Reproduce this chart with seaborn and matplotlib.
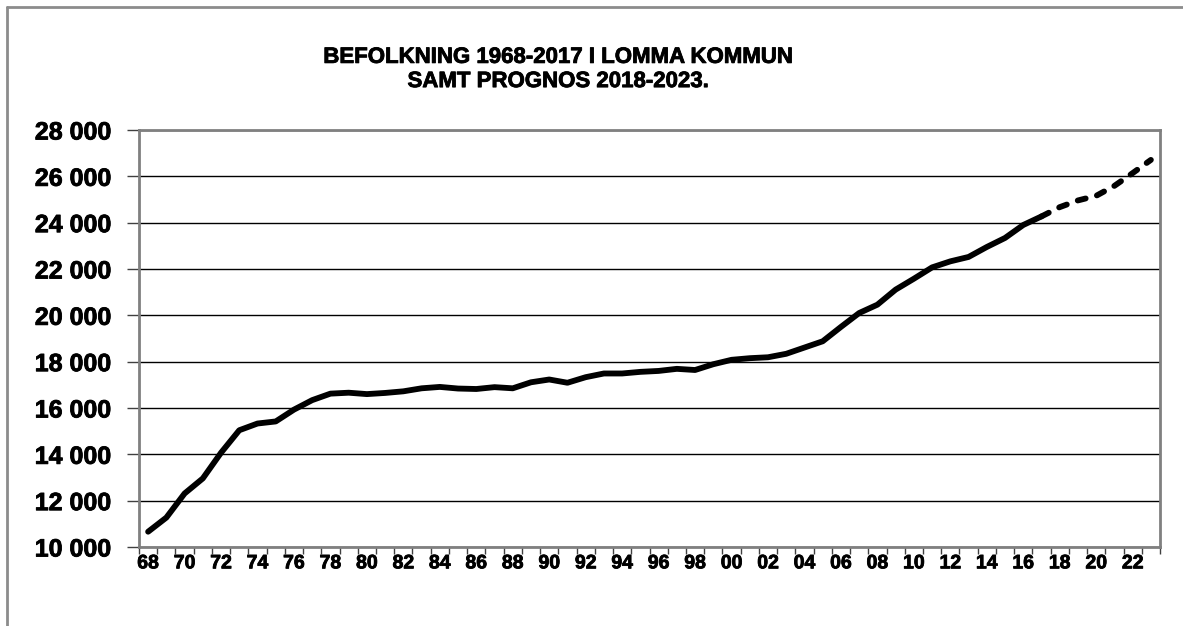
import numpy as np
import pandas as pd
import seaborn as sns
import matplotlib.pyplot as plt
import matplotlib.patheffects as pe
from matplotlib.lines import Line2D
from matplotlib.ticker import FuncFormatter, FixedLocator

# observed population 1968-2017
years_obs = list(range(1968, 2018))
pop_obs = [10660, 11270, 12310, 12960, 14070, 15040, 15330, 15420, 15930, 16340,
           16620, 16660, 16600, 16650, 16720, 16850, 16910, 16840, 16820, 16900,
           16850, 17110, 17230, 17090, 17330, 17490, 17490, 17560, 17600, 17690,
           17640, 17890, 18080, 18150, 18190, 18340, 18610, 18880, 19500, 20100,
           20460, 21110, 21580, 22070, 22330, 22520, 22950, 23340, 23900, 24270]

# forecast 2018-2023 (joined to last observed year)
years_fc = list(range(2017, 2024))
pop_fc = [24270, 24670, 24960, 25160, 25590, 26140, 26710]

title = "BEFOLKNING 1968-2017 I LOMMA KOMMUN\nSAMT PROGNOS 2018-2023."

sns.set_style("white")
plt.rcParams['font.family'] = ['Liberation Sans', 'DejaVu Sans']
plt.rcParams['font.weight'] = 'bold'
plt.rcParams['text.color'] = 'black'
plt.rcParams['xtick.color'] = 'black'
plt.rcParams['ytick.color'] = 'black'

fig = plt.figure(figsize=(11.83, 6.26), dpi=100)
ax = fig.add_axes([139 / 1183, 1 - 547 / 626, (1160 - 139) / 1183, (547 - 130) / 626])

df_obs = pd.DataFrame({"year": years_obs, "pop": pop_obs})
df_fc = pd.DataFrame({"year": years_fc, "pop": pop_fc})

sns.lineplot(data=df_obs, x="year", y="pop", ax=ax, color="black", linewidth=4.2,
             solid_capstyle="round", solid_joinstyle="round")
sns.lineplot(data=df_fc, x="year", y="pop", ax=ax, color="black", linewidth=4.2,
             linestyle=(0, (1.4, 2.0)), dash_capstyle="round")

ax.set_xlim(1967.5, 2023.5)
ax.set_ylim(10000, 28000)
ax.set_yticks(np.arange(10000, 28001, 2000))
ax.yaxis.set_major_formatter(FuncFormatter(lambda v, p: f"{int(v):,}".replace(",", " ")))
ax.grid(axis="y", color="black", linewidth=1.0)
ax.set_axisbelow(True)

# ticks between categories, labels on every second year
ax.xaxis.set_major_locator(FixedLocator(np.arange(1967.5, 2024, 1)))
ax.xaxis.set_major_formatter(FuncFormatter(lambda v, p: ""))
ax.xaxis.set_minor_locator(FixedLocator(np.arange(1968, 2023, 2)))
ax.xaxis.set_minor_formatter(FuncFormatter(lambda v, p: f"{int(v) % 100:02d}"))
ax.tick_params(axis="x", which="major", direction="out", length=5, width=1, color="#404040", bottom=True)
ax.tick_params(axis="x", which="minor", length=0, pad=6, labelsize=14)
ax.tick_params(axis="y", direction="out", length=9, width=1, color="#404040", left=True,
               pad=11, labelsize=18)

bold_fx = [pe.withStroke(linewidth=0.6, foreground="black")]
for lab in ax.get_xticklabels(minor=True) + ax.get_yticklabels():
    lab.set_fontweight("bold")
    lab.set_path_effects(bold_fx)

for s in ax.spines.values():
    s.set_visible(True)
    s.set_color("#808080")
    s.set_linewidth(2)

ax.set_xlabel("")
ax.set_ylabel("")

fig.text(0.472, 0.889, title, ha="center", va="center", fontsize=16,
         fontweight="bold", linespacing=1.2, path_effects=bold_fx)

# outer chart border (top and left visible)
fig.add_artist(Line2D([7 / 1183, 1.0], [1 - 7 / 626, 1 - 7 / 626], color="#8c8c8c", linewidth=2))
fig.add_artist(Line2D([7 / 1183, 7 / 1183], [0.0, 1 - 7 / 626], color="#8c8c8c", linewidth=2))

fig.savefig("out.png", dpi=100)
